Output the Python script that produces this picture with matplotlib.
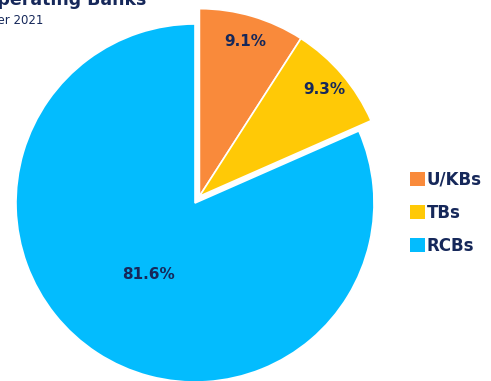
import matplotlib
matplotlib.use("Agg")
import matplotlib.pyplot as plt
from matplotlib.patches import Patch
import numpy as np

# Share of operating banks by type
categories = ["U/KBs", "TBs", "RCBs"]
shares = [9.1, 9.3, 81.6]
colors = ["#F98A3B", "#FFC906", "#03BCFE"]
navy = "#16285A"

W, H = 491, 381
fig = plt.figure(figsize=(W / 100, H / 100), dpi=100)

# pie axes placed by centre and radius in pixels
cx, cy, r = 195, 203, 179
ax = fig.add_axes([(cx - r) / W, (H - cy - r) / H, 2 * r / W, 2 * r / H])

wedges, _ = ax.pie(
    shares,
    colors=colors,
    startangle=90,
    counterclock=False,
    radius=1.0,
    wedgeprops=dict(edgecolor="white", linewidth=1.2),
)
ax.set_xlim(-1, 1)
ax.set_ylim(-1, 1)
ax.set_aspect("equal")
ax.axis("off")

# pull the two smaller slices out together, slightly enlarged
highlight = [0, 1]
t_lo = min(wedges[i].theta1 for i in highlight)
t_hi = max(wedges[i].theta2 for i in highlight)
mid = np.deg2rad((t_lo + t_hi) / 2)
shift = 0.045
for i in highlight:
    wedges[i].set_center((shift * np.cos(mid), shift * np.sin(mid)))
    wedges[i].set_radius(1.048)
for w in wedges:
    w.set_clip_on(False)

# value labels inside each slice
label_dist = [0.90, 0.915, 0.48]
for w, val, d in zip(wedges, shares, label_dist):
    th = np.deg2rad((w.theta1 + w.theta2) / 2)
    x0, y0 = w.center
    ax.text(x0 + d * np.cos(th), y0 + d * np.sin(th), f"{val}%",
            ha="center", va="center", fontsize=11, fontweight="bold",
            color=navy, clip_on=False)

# title block (runs off the left edge)
fig.text(146 / W, 1 - 5 / H, "Number of Operating Banks", ha="right",
         va="baseline", fontsize=12.5, fontweight="bold", color=navy)
fig.text(43 / W, 1 - 24 / H, "As of end-December 2021", ha="right",
         va="baseline", fontsize=8.5, color=navy)

handles = [Patch(facecolor=c, edgecolor="none") for c in colors]
fig.legend(handles, categories, loc="center left",
           bbox_to_anchor=(410 / W, 1 - 213 / H), frameon=False,
           handlelength=0.9, handleheight=0.9, handletextpad=0.1,
           labelspacing=0.9, borderpad=0, borderaxespad=0,
           prop=dict(size=12, weight="bold"), labelcolor=navy)

fig.savefig("out.png", dpi=100)
